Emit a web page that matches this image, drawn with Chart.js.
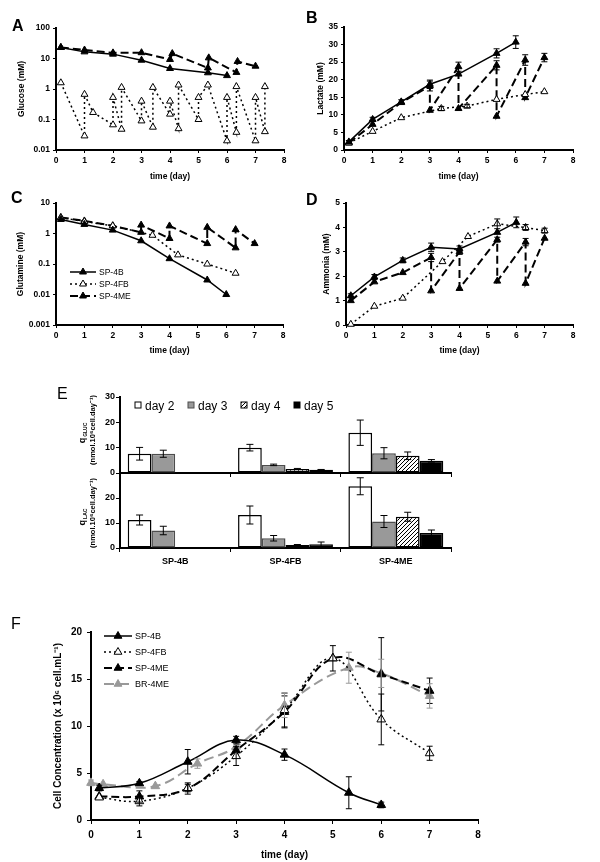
<!DOCTYPE html>
<html>
<head>
<meta charset="utf-8">
<title>SP-4B / SP-4FB / SP-4ME cultures</title>
<script src="https://cdn.jsdelivr.net/npm/chart.js@4.4.1/dist/chart.umd.min.js"></script>
<style>
  html, body { margin: 0; padding: 0; background: #fff; }
  #page { position: relative; width: 600px; height: 862px; overflow: hidden; }
  #page canvas { position: absolute; }
  #ov { position: absolute; left: 0; top: 0; font-family: 'Liberation Sans', Arial, sans-serif; }
</style>
</head>
<body>
<div id="page">
  <canvas id="chA" width="300" height="190" style="left:0;top:0"></canvas>
  <canvas id="chB" width="300" height="190" style="left:300px;top:0"></canvas>
  <canvas id="chC" width="300" height="165" style="left:0;top:195px"></canvas>
  <canvas id="chD" width="300" height="165" style="left:300px;top:195px"></canvas>
  <canvas id="chE1" width="460" height="95" style="left:60px;top:385px"></canvas>
  <canvas id="chE2" width="460" height="110" style="left:60px;top:466px"></canvas>
  <canvas id="chF" width="600" height="262" style="left:0;top:600px"></canvas>
  <svg id="ov" width="600" height="862"></svg>
</div>
<script>
Chart.defaults.font.family = "'Liberation Sans', Arial, sans-serif";
Chart.defaults.color = '#000';

// ---- data ----
const dayTicks = [0, 1, 2, 3, 4, 5, 6, 7, 8];

// A: glucose (mM), log axis
const glcTicks = [0.01, 0.1, 1, 10, 100];
const glcDays4B = [0.17, 1, 2, 3, 4, 5.33, 6];
const glc4B = [23, 16.5, 13.9, 8.8, 4.7, 3.4, 2.75];
const glcDays4FB = [0.17, 1, 1, 1.3, 2, 2, 2.3, 2.3, 3, 3, 3.4, 3.4, 4, 4, 4.3, 4.3, 5, 5, 5.33, 6, 6, 6.33, 6.33, 7, 7, 7.33, 7.33];
const glc4FB = [1.6, 0.029, 0.67, 0.17, 0.067, 0.53, 0.048, 1.13, 0.09, 0.4, 0.056, 1.13, 0.15, 0.4, 0.05, 1.35, 0.1, 0.53, 1.35, 0.02, 0.53, 0.038, 1.2, 0.02, 0.53, 0.04, 1.2];
const glcDays4ME = [0.17, 1, 2, 3, 4, 4.08, 5.33, 5.36, 6.33, 6.37, 7];
const glc4ME = [23, 19, 15.3, 15.5, 9.3, 14.5, 4.9, 10.5, 3.5, 8, 5.6];

// B: lactate (mM)
const lacTicks = [0, 5, 10, 15, 20, 25, 30, 35];
const lacDays4B = [0.17, 1, 2, 3, 4, 5.33, 6];
const lac4B = [2.3, 8.7, 13.7, 18.7, 21.6, 27.5, 30.7];
const lac4BErr = [0.4, 0.6, 0.6, 1.2, null, 1.3, 1.8];
const lacDays4FB = [0.17, 1, 2, 3.4, 4.3, 5.33, 6.33, 7];
const lac4FB = [2, 5.3, 9.2, 11.8, 12.5, 14.4, 15.8, 16.6];
const lac4FBErr = [null, null, null, 0.6, 0.5, null, null, null];
const lacDays4ME = [0.17, 1, 2, 3, 3, 4, 4, 5.33, 5.33, 6.33, 6.33, 7];
const lac4ME = [2, 7.3, 13.5, 18.2, 11.3, 23.7, 11.8, 24.1, 9.6, 25.6, 14.9, 26.3];
const lac4MEErr = [null, null, null, 1.4, null, 1.3, null, 1.3, null, 1.5, null, 1.2];

// C: glutamine (mM), log axis
const glnTicks = [0.001, 0.01, 0.1, 1, 10];
const glnDays4B = [0.17, 1, 2, 3, 4, 5.33, 6];
const gln4B = [2.9, 2.0, 1.3, 0.58, 0.15, 0.03, 0.01];
const glnDays4FB = [0.17, 1, 2, 3.4, 4.3, 5.33, 6.33];
const gln4FB = [3.3, 2.5, 1.8, 0.88, 0.2, 0.1, 0.05];
const glnDays4ME = [0.17, 1, 2, 3, 3, 4, 4, 5.33, 5.33, 6.33, 6.33, 7];
const gln4ME = [3.4, 2.6, 1.8, 1.1, 1.9, 0.69, 1.78, 0.47, 1.6, 0.34, 1.35, 0.47];

// D: ammonia (mM)
const nh4Ticks = [0, 1, 2, 3, 4, 5];
const nh4Days4B = [0.17, 1, 2, 3, 4, 5.33, 6];
const nh44B = [1.2, 1.97, 2.65, 3.19, 3.12, 3.8, 4.21];
const nh44BErr = [0.08, 0.1, 0.1, 0.17, 0.12, null, 0.22];
const nh4Days4FB = [0.17, 1, 2, 3.4, 4.3, 5.33, 6.33, 7];
const nh44FB = [0.03, 0.77, 1.1, 2.6, 3.63, 4.15, 4.0, 3.87];
const nh44FBErr = [null, null, null, null, null, 0.2, 0.12, 0.1];
const nh4Days4ME = [0.17, 1, 2, 3, 3, 4, 4, 5.33, 5.33, 6.33, 6.33, 7];
const nh44ME = [1.0, 1.77, 2.15, 2.77, 1.4, 3.0, 1.5, 3.5, 1.8, 3.4, 1.71, 3.56];
const nh44MEErr = [null, null, null, 0.17, null, 0.1, null, 0.1, null, 0.15, null, null];

// E: specific rates (nmol.10^6 cell.day^-1)
const eGroups = ['SP-4B', 'SP-4FB', 'SP-4ME'];
const eDays = ['day 2', 'day 3', 'day 4', 'day 5'];
const qGlcTicks = [0, 10, 20, 30];
const qLacTicks = [0, 10, 20];
const qGlcDay2 = [7.6, 10.0, 15.9];
const qGlcDay3 = [7.6, 3.2, 7.8];
const qGlcDay4 = [null, 1.6, 6.8];
const qGlcDay5 = [null, 1.3, 4.8];
const qGlcErr2 = [2.5, 1.3, 5.0];
const qGlcErr3 = [1.4, 0.3, 2.2];
const qGlcErr4 = [null, 0.2, 1.5];
const qGlcErr5 = [null, 0.1, 0.5];
const qLacDay2 = [11.2, 13.2, 24.7];
const qLacDay3 = [7.0, 3.9, 10.6];
const qLacDay4 = [null, 1.2, 12.5];
const qLacDay5 = [null, 1.5, 6.0];
const qLacErr2 = [2.0, 3.6, 3.4];
const qLacErr3 = [1.7, 1.1, 2.4];
const qLacErr4 = [null, 0.2, 1.8];
const qLacErr5 = [null, 0.9, 1.2];

// F: cell concentration (x 10^6 cell.mL^-1)
const cellTicks = [0, 5, 10, 15, 20];
const cellDays4B = [0.17, 1, 2, 3, 4, 5.33, 6];
const cell4B = [3.4, 3.9, 6.2, 8.5, 6.95, 2.9, 1.6];
const cell4BErr = [0.3, 0.2, 1.3, 0.4, 0.6, 1.7, 0.3];
const cellDays4FB = [0.17, 1, 2, 3, 4, 5, 6, 7];
const cell4FB = [2.4, 2.0, 3.4, 6.8, 11.7, 17.2, 10.7, 7.1];
const cell4FBErr = [null, 0.5, 0.4, 1.0, 1.8, null, 2.7, 0.75];
const cellDays4ME = [0.17, 1, 2, 3, 4, 5, 6, 7];
const cell4ME = [2.5, 2.5, 3.35, 7.4, 11.5, 17.2, 15.5, 13.75];
const cell4MEErr = [null, 0.6, 0.6, null, 1.7, 1.35, 3.9, 1.35];
const cellDaysBR = [0, 0.25, 1.33, 2.2, 3, 4, 5.33, 6, 7];
const cellBR = [3.95, 3.8, 3.6, 6.0, 7.8, 12.2, 16.2, 15.6, 13.2];
const cellBRErr = [0.3, null, null, 0.5, null, 1.3, 1.65, 1.5, 1.3];

const legendNamesC = ['SP-4B', 'SP-4FB', 'SP-4ME'];
const legendNamesF = ['SP-4B', 'SP-4FB', 'SP-4ME', 'BR-4ME'];

// ---- styles ----
const styles = {
  B:  { borderColor: '#000', borderDash: [], borderWidth: 1.5, pointBackgroundColor: '#000', pointBorderColor: '#000' },
  FB: { borderColor: '#000', borderDash: [2, 3], borderWidth: 1.5, pointBackgroundColor: '#fff', pointBorderColor: '#000' },
  ME: { borderColor: '#000', borderDash: [8, 4], borderWidth: 2, pointBackgroundColor: '#000', pointBorderColor: '#000' },
  BR: { borderColor: '#999', borderDash: [10, 5], borderWidth: 2, pointBackgroundColor: '#999', pointBorderColor: '#999' }
};

function pts(xs, ys) {
  return xs.map((x, i) => ({ x: x, y: ys[i] }));
}

function series(key, xs, ys, err, r, tension) {
  return Object.assign({
    data: pts(xs, ys),
    err: err,
    errColor: key === 'BR' ? '#999' : '#000',
    pointStyle: 'triangle',
    pointRadius: r,
    pointBorderWidth: 1,
    tension: tension || 0,
    fill: false,
    clip: false
  }, styles[key]);
}

// error bars drawn from the y scale of each chart
const errorBars = {
  id: 'errorBars',
  afterDatasetsDraw(chart) {
    const ctx = chart.ctx;
    const yScale = chart.scales.y;
    chart.data.datasets.forEach((ds, i) => {
      if (!ds.err) return;
      const meta = chart.getDatasetMeta(i);
      ctx.save();
      ctx.strokeStyle = ds.errColor || '#000';
      ctx.lineWidth = 1;
      ctx.setLineDash([]);
      meta.data.forEach((el, j) => {
        const e = ds.err[j];
        const raw = ds.data[j];
        const v = (raw !== null && typeof raw === 'object') ? raw.y : raw;
        if (e == null || v == null) return;
        const top = yScale.getPixelForValue(v + e);
        const bot = yScale.getPixelForValue(v - e);
        const cap = ds.errCap || 3;
        ctx.beginPath();
        ctx.moveTo(el.x, top); ctx.lineTo(el.x, bot);
        ctx.moveTo(el.x - cap, top); ctx.lineTo(el.x + cap, top);
        ctx.moveTo(el.x - cap, bot); ctx.lineTo(el.x + cap, bot);
        ctx.stroke();
      });
      ctx.restore();
    });
  }
};

function setTicks(list) {
  return s => { s.ticks = list.map(v => ({ value: v })); };
}

function timeChart(id, datasets, box, yScale, yTitle) {
  return new Chart(document.getElementById(id), {
    type: 'line',
    data: { datasets: datasets },
    plugins: [errorBars],
    options: {
      responsive: false,
      animation: false,
      events: [],
      layout: { padding: { left: 0, top: box.top, right: box.right, bottom: 0 } },
      plugins: { legend: { display: false }, tooltip: { enabled: false } },
      scales: {
        x: {
          type: 'linear', min: 0, max: 8,
          afterBuildTicks: setTicks(dayTicks),
          afterFit: s => { s.height = box.xh; },
          grid: { drawOnChartArea: false, tickLength: box.tick, color: '#000', lineWidth: 1 },
          border: { color: '#000', width: 2 },
          ticks: { font: box.tickFont, padding: box.tickPad, maxRotation: 0, callback: v => String(v) },
          title: { display: true, text: 'time (day)', font: box.titleFont, padding: { top: 0, bottom: box.xTitlePad } }
        },
        y: Object.assign({
          afterFit: s => { s.width = box.yw; },
          grid: { drawOnChartArea: false, tickLength: box.tick, color: '#000', lineWidth: 1 },
          border: { color: '#000', width: 2 },
          ticks: { font: box.tickFont, padding: box.tickPad, callback: v => String(v) },
          title: { display: true, text: yTitle, font: box.titleFont, padding: { top: box.yTitlePad, bottom: 0 } }
        }, yScale)
      }
    }
  });
}

function logScale(min, max, list) {
  return { type: 'logarithmic', min: min, max: max, afterBuildTicks: setTicks(list) };
}
function linScale(min, max, list) {
  return { type: 'linear', min: min, max: max, afterBuildTicks: setTicks(list) };
}

const small = { tick: 3, tickPad: 3, tickFont: { size: 8.5, weight: 'bold' }, titleFont: { size: 8.5, weight: 'bold' } };

// A
timeChart('chA', [
  series('B', glcDays4B, glc4B, null, 4),
  series('FB', glcDays4FB, glc4FB, null, 4),
  series('ME', glcDays4ME, glc4ME, null, 4)
], Object.assign({}, small, { top: 28, right: 16, xh: 40, yw: 56, xTitlePad: 8, yTitlePad: 17 }),
  logScale(0.01, 100, glcTicks), 'Glucose (mM)');

// B
timeChart('chB', [
  series('B', lacDays4B, lac4B, lac4BErr, 4),
  series('FB', lacDays4FB, lac4FB, lac4FBErr, 4),
  series('ME', lacDays4ME, lac4ME, lac4MEErr, 4)
], Object.assign({}, small, { top: 27, right: 27, xh: 40, yw: 44, xTitlePad: 8, yTitlePad: 16 }),
  linScale(0, 35, lacTicks), 'Lactate (mM)');

// C
timeChart('chC', [
  series('B', glnDays4B, gln4B, null, 4),
  series('FB', glnDays4FB, gln4FB, null, 4),
  series('ME', glnDays4ME, gln4ME, null, 4)
], Object.assign({}, small, { top: 7, right: 17, xh: 35, yw: 56, xTitlePad: 4, yTitlePad: 16 }),
  logScale(0.001, 10, glnTicks), 'Glutamine (mM)');

// D
timeChart('chD', [
  series('B', nh4Days4B, nh44B, nh44BErr, 4),
  series('FB', nh4Days4FB, nh44FB, nh44FBErr, 4),
  series('ME', nh4Days4ME, nh44ME, nh44MEErr, 4)
], Object.assign({}, small, { top: 7, right: 27, xh: 35, yw: 46, xTitlePad: 4, yTitlePad: 22 }),
  linScale(0, 5, nh4Ticks), 'Ammonia (mM)');

// F
timeChart('chF', [
  series('B', cellDays4B, cell4B, cell4BErr, 5, 0.4),
  series('FB', cellDays4FB, cell4FB, cell4FBErr, 5, 0.4),
  series('ME', cellDays4ME, cell4ME, cell4MEErr, 5, 0.4),
  series('BR', cellDaysBR, cellBR, cellBRErr, 5, 0.4)
], { top: 32, right: 122, xh: 42, yw: 91, tick: 4, tickPad: 5, xTitlePad: 1, yTitlePad: 52,
     tickFont: { size: 10, weight: 'bold' }, titleFont: { size: 10, weight: 'bold' } },
  linScale(0, 20, cellTicks), 'Cell Concentration (x 10\u2076 cell.mL\u207B\u00B9)');

// E: bars
function hatchPattern() {
  const c = document.createElement('canvas');
  c.width = 4; c.height = 4;
  const g = c.getContext('2d');
  g.fillStyle = '#fff';
  g.fillRect(0, 0, 4, 4);
  g.strokeStyle = '#000';
  g.lineWidth = 1;
  g.beginPath();
  g.moveTo(0, 4); g.lineTo(4, 0);
  g.moveTo(-1, 1); g.lineTo(1, -1);
  g.moveTo(3, 5); g.lineTo(5, 3);
  g.stroke();
  return g.createPattern(c, 'repeat');
}
const dayFills = ['#ffffff', '#999999', hatchPattern(), '#000000'];
const dayBorders = ['#000', '#4d4d4d', '#000', '#000'];

function barSets(vals, errs) {
  return vals.map((v, i) => ({
    label: eDays[i], data: v, err: errs[i],
    backgroundColor: dayFills[i], borderColor: dayBorders[i],
    borderWidth: 1.5, borderSkipped: false, errCap: 3.5
  }));
}

function barChart(id, datasets, box) {
  return new Chart(document.getElementById(id), {
    type: 'bar',
    data: { labels: eGroups, datasets: datasets },
    plugins: [errorBars],
    options: {
      responsive: false,
      animation: false,
      events: [],
      layout: { padding: { left: 0, top: box.top, right: box.right, bottom: 0 } },
      plugins: { legend: { display: false }, tooltip: { enabled: false } },
      datasets: { bar: { categoryPercentage: 0.86, barPercentage: 1 } },
      scales: {
        x: {
          afterFit: s => { s.height = box.xh; },
          grid: { offset: true, drawOnChartArea: false, tickLength: 4, color: '#000' },
          border: { color: '#000', width: 2 },
          ticks: { display: box.labels, font: { size: 9, weight: 'bold' }, padding: 4 }
        },
        y: {
          min: 0, max: 30,
          afterBuildTicks: setTicks(box.yTicks),
          afterFit: s => { s.width = box.yw; },
          grid: { drawOnChartArea: false, tickLength: 4, color: '#000' },
          border: { color: '#000', width: 2 },
          ticks: { font: { size: 9, weight: 'bold' }, padding: 1, callback: v => String(v) }
        }
      }
    }
  });
}

barChart('chE1', barSets([qGlcDay2, qGlcDay3, qGlcDay4, qGlcDay5], [qGlcErr2, qGlcErr3, qGlcErr4, qGlcErr5]),
  { top: 12, right: 69, xh: 7, yw: 60, labels: false, yTicks: qGlcTicks });
barChart('chE2', barSets([qLacDay2, qLacDay3, qLacDay4, qLacDay5], [qLacErr2, qLacErr3, qLacErr4, qLacErr5]),
  { top: 7, right: 69, xh: 28, yw: 60, labels: true, yTicks: qLacTicks });

// ---- overlay: panel letters, legends, E axis titles ----
const NS = 'http://www.w3.org/2000/svg';
const ov = document.getElementById('ov');
function add(tag, attrs, text, parent) {
  const e = document.createElementNS(NS, tag);
  for (const k in attrs) e.setAttribute(k, attrs[k]);
  if (text != null) e.textContent = text;
  (parent || ov).appendChild(e);
  return e;
}
function tri(cx, cy, r, fill, stroke) {
  add('polygon', {
    points: cx + ',' + (cy - r) + ' ' + (cx + 0.866 * r) + ',' + (cy + 0.5 * r) + ' ' + (cx - 0.866 * r) + ',' + (cy + 0.5 * r),
    fill: fill, stroke: stroke, 'stroke-width': 1
  });
}

const defs = add('defs', {});
const pat = add('pattern', { id: 'hatchSvg', width: 4, height: 4, patternUnits: 'userSpaceOnUse' }, null, defs);
add('rect', { width: 4, height: 4, fill: '#fff' }, null, pat);
add('path', { d: 'M0,4 L4,0 M-1,1 L1,-1 M3,5 L5,3', stroke: '#000', 'stroke-width': 1 }, null, pat);

[['A', 12, 31, 'bold'], ['B', 306, 23, 'bold'], ['C', 11, 203, 'bold'], ['D', 306, 205, 'bold'],
 ['E', 57, 399, 'normal'], ['F', 11, 629, 'normal']].forEach(l => {
  add('text', { x: l[1], y: l[2], 'font-size': 16, 'font-weight': l[3] }, l[0]);
});

function legend(names, keys, x0, x1, tx, ys, r, fs) {
  names.forEach((n, i) => {
    const st = styles[keys[i]];
    add('line', { x1: x0, y1: ys[i], x2: x1, y2: ys[i], stroke: st.borderColor, 'stroke-width': st.borderWidth,
      'stroke-dasharray': st.borderDash.length ? st.borderDash.join(' ') : 'none' });
    tri((x0 + x1) / 2, ys[i], r, st.pointBackgroundColor, st.pointBorderColor);
    add('text', { x: tx, y: ys[i] + fs * 0.36, 'font-size': fs }, n);
  });
}
legend(legendNamesC, ['B', 'FB', 'ME'], 70, 96, 99, [272, 284, 296], 4, 8.5);
legend(legendNamesF, ['B', 'FB', 'ME', 'BR'], 104, 132, 135, [636, 652, 668, 684], 4.5, 9);

const eLegendX = [135, 188, 241, 294];
eDays.forEach((d, i) => {
  const x = eLegendX[i];
  add('rect', { x: x, y: 402, width: 6, height: 6, fill: i === 2 ? 'url(#hatchSvg)' : dayFills[i],
    stroke: dayBorders[i], 'stroke-width': 1 });
  add('text', { x: x + 10, y: 409.5, 'font-size': 12 }, d);
});

function qTitle(cx, cy, sub) {
  const t = add('text', { transform: 'translate(' + cx + ',' + cy + ') rotate(-90)', 'text-anchor': 'middle',
    'font-size': 9, 'font-weight': 'bold' }, 'q');
  add('tspan', { 'font-size': 5, dy: 2, dx: 1 }, sub, t);
}
qTitle(85, 433, 'GLUC');
qTitle(85, 517, 'LAC');
add('text', { transform: 'translate(95,430) rotate(-90)', 'text-anchor': 'middle', 'font-size': 7.5, 'font-weight': 'bold' },
  '(nmol.10\u2076cell.day\u207B\u00B9)');
add('text', { transform: 'translate(95,513) rotate(-90)', 'text-anchor': 'middle', 'font-size': 7.5, 'font-weight': 'bold' },
  '(nmol.10\u2076cell.day\u207B\u00B9)');
</script>
</body>
</html>
